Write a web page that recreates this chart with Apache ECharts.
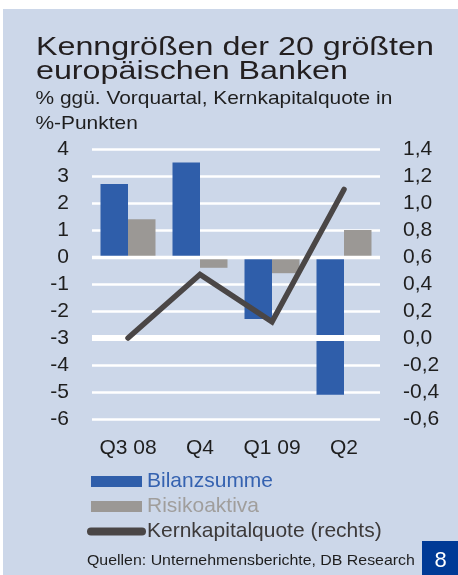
<!DOCTYPE html>
<html>
<head>
<meta charset="utf-8">
<script src="https://cdn.jsdelivr.net/npm/echarts@6/dist/echarts.min.js"></script>
<style>
  html, body { margin: 0; padding: 0; background: #ffffff; }
  #chart { position: absolute; left: 3px; top: 9px; width: 455px; height: 566px; }
</style>
</head>
<body>
<div id="chart"></div>
<script>
// Kenngrößen der 20 größten europäischen Banken
const categories = ['Q3 08', 'Q4', 'Q1 09', 'Q2'];
const bilanzsumme = [2.7, 3.5, -2.3, -5.1];
const risikoaktiva = [1.4, -0.4, -0.6, 1.0];
const kernkapitalquote = [0.0, 0.47, 0.12, 1.1];

const FONT = '"Liberation Sans", Arial, sans-serif';
const BLUE = '#2f5eaa';
const GREY = '#9b9895';
const DARK = '#4a4646';

const chart = echarts.init(document.getElementById('chart'));

const option = {
  animation: false,
  backgroundColor: '#ccd7e9',
  textStyle: { fontFamily: FONT },
  grid: { left: 89, right: 78, top: 140, bottom: 156, outerBoundsMode: 'none', containLabel: false },
  legend: {
    orient: 'vertical',
    left: 84,
    top: 462,
    padding: 0,
    itemWidth: 51,
    itemHeight: 11,
    itemGap: 4,
    textStyle: { fontSize: 21, fontFamily: FONT },
    data: [
      { name: 'Bilanzsumme', icon: 'rect', textStyle: { color: '#3562b0' } },
      { name: 'Risikoaktiva', icon: 'rect', textStyle: { color: '#a09e9c' } },
      {
        name: 'Kernkapitalquote (rechts)',
        lineStyle: { width: 8, cap: 'round' },
        itemStyle: { opacity: 0 },
        textStyle: { color: '#3d3a3a' }
      }
    ]
  },
  xAxis: {
    type: 'category',
    data: categories,
    axisLine: { show: false, onZero: false },
    axisTick: { show: false },
    axisLabel: { interval: 0, color: '#1e1e1e', fontSize: 21, fontFamily: FONT, margin: 19 }
  },
  yAxis: [
    {
      type: 'value',
      min: -6,
      max: 4,
      interval: 1,
      axisLine: { show: false },
      axisTick: { show: false },
      axisLabel: { color: '#1e1e1e', fontSize: 21, fontFamily: FONT, margin: 23 },
      splitLine: { lineStyle: { color: '#ffffff', width: 2.5 } }
    },
    {
      type: 'value',
      min: -0.6,
      max: 1.4,
      interval: 0.2,
      axisLine: { show: false },
      axisTick: { show: false },
      splitLine: { show: false },
      axisLabel: {
        color: '#1e1e1e', fontSize: 21, fontFamily: FONT, margin: 23,
        formatter: v => (Math.abs(v) < 1e-9 ? 0 : v).toFixed(1).replace('.', ',')
      }
    }
  ],
  series: [
    {
      name: 'Bilanzsumme',
      type: 'bar',
      data: bilanzsumme,
      barWidth: 27.5,
      barGap: '0%',
      itemStyle: { color: BLUE },
      markLine: {
        silent: true,
        symbol: 'none',
        label: { show: false },
        lineStyle: { color: '#ffffff', width: 3.3, type: 'solid' },
        data: [{ yAxis: 0 }]
      }
    },
    {
      name: 'Risikoaktiva',
      type: 'bar',
      data: risikoaktiva,
      barWidth: 27.5,
      itemStyle: { color: GREY }
    },
    {
      name: 'Kernkapitalquote (rechts)',
      type: 'line',
      yAxisIndex: 1,
      z: 10,
      data: kernkapitalquote,
      symbol: 'none',
      showSymbol: false,
      itemStyle: { color: DARK },
      lineStyle: { color: DARK, width: 5.5, cap: 'round', join: 'miter' },
      markLine: {
        silent: true,
        symbol: 'none',
        label: { show: false },
        lineStyle: { color: '#ffffff', width: 6, type: 'solid' },
        data: [{ yAxis: 0 }]
      }
    }
  ],
  graphic: [
    {
      type: 'text', x: 33, y: 38.9, scaleX: 1.24,
      style: { text: 'Kenngrößen der 20 größten', fontSize: 26, fontFamily: FONT, fill: '#231f20', verticalAlign: 'middle' }
    },
    {
      type: 'text', x: 33, y: 63.3, scaleX: 1.24,
      style: { text: 'europäischen Banken', fontSize: 26, fontFamily: FONT, fill: '#231f20', verticalAlign: 'middle' }
    },
    {
      type: 'text', x: 32.5, y: 90, scaleX: 1.13,
      style: { text: '% ggü. Vorquartal, Kernkapitalquote in', fontSize: 18.5, fontFamily: FONT, fill: '#1e1e1e', verticalAlign: 'middle' }
    },
    {
      type: 'text', x: 32.5, y: 115, scaleX: 1.13,
      style: { text: '%-Punkten', fontSize: 18.5, fontFamily: FONT, fill: '#1e1e1e', verticalAlign: 'middle' }
    },
    {
      type: 'text', x: 84, y: 552, scaleX: 1.06,
      style: { text: 'Quellen: Unternehmensberichte, DB Research', fontSize: 15, fontFamily: FONT, fill: '#1e1e1e', verticalAlign: 'middle' }
    },
    {
      type: 'rect', x: 419, y: 532,
      shape: { width: 36, height: 34 },
      style: { fill: '#003a96' }
    },
    {
      type: 'text', x: 437.5, y: 552,
      style: { text: '8', fontSize: 22, fontFamily: FONT, fill: '#ffffff', align: 'center', verticalAlign: 'middle' }
    }
  ]
};

chart.setOption(option);
</script>
</body>
</html>
